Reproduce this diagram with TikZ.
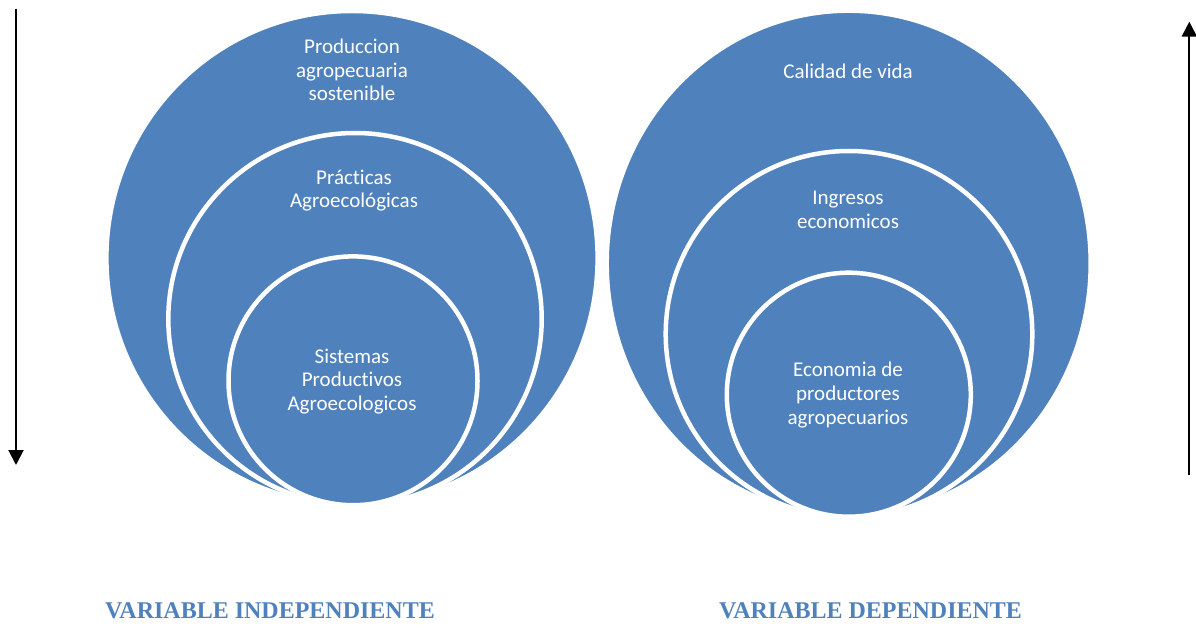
\documentclass[tikz,border=0pt]{standalone}
\usepackage{fontspec}
\setmainfont{Carlito}[Ligatures={NoCommon}]
\newfontfamily\tnr{Liberation Serif}
\usetikzlibrary{arrows.meta}
\definecolor{smblue}{HTML}{4F81BD}
\tikzset{
  ring/.style={fill=smblue, draw=white, line width=4.5pt},
  lbl/.style={text=white, align=center, inner sep=0pt, font=\fontsize{21}{23.7}\selectfont},
  varlbl/.style={text=smblue, inner sep=0pt, font=\tnr\bfseries\fontsize{24}{28}\selectfont},
  arr/.style={line width=2pt, -{Triangle[width=15pt,length=15pt]}}
}
\begin{document}
\begin{tikzpicture}[x=1pt,y=-1pt]
\useasboundingbox (0,0) rectangle (1196,628);
% left nested circles
\draw[ring] (352,258) ellipse [x radius=245.6pt, y radius=247pt];
\draw[ring] (355,319) ellipse [x radius=186.7pt, y radius=186pt];
\draw[ring] (353,380.8) ellipse [x radius=124.5pt, y radius=124.4pt];
% right nested circles
\draw[ring] (848.7,263.4) ellipse [x radius=242pt, y radius=252.7pt];
\draw[ring] (849,334) ellipse [x radius=183.3pt, y radius=183pt];
\draw[ring] (848.8,394.7) ellipse [x radius=122pt, y radius=122pt];
% texts
\node[lbl] (l1) at (352,70) {Produccion\\agropecuaria\\sostenible};
\node[lbl] (l2) at (354,190.5) {Prácticas\\Agroecológicas};
\node[lbl] (l3) at (352,381.5) {Sistemas\\Productivos\\Agroecologicos};
\node[lbl] (r1) at (848,71.7) {Calidad de vida};
\node[lbl] (r2) at (848,210) {Ingresos\\economicos};
\node[lbl] (r3) at (848,395) {Economia de\\productores\\agropecuarios};
% arrows
\coordinate (la1) at (16,9);
\coordinate (la2) at (16,465);
\coordinate (ra1) at (1189.3,475);
\coordinate (ra2) at (1189.3,21.7);
\draw[arr] (la1) -- (la2);
\draw[arr] (ra1) -- (ra2);
% bottom labels
\node[varlbl] (vi) at (270,611) {VARIABLE INDEPENDIENTE};
\node[varlbl] (vd) at (870.5,611) {VARIABLE DEPENDIENTE};
\end{tikzpicture}
\end{document}
